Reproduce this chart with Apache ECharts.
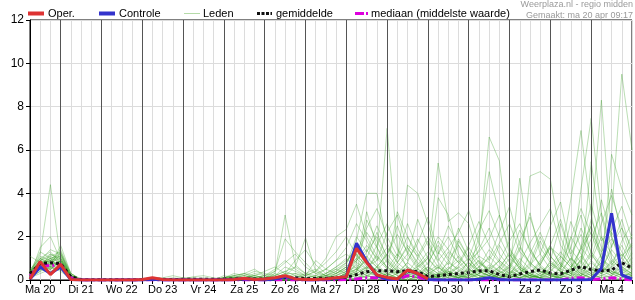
<!DOCTYPE html>
<html><head><meta charset="utf-8">
<script src="https://cdn.jsdelivr.net/npm/echarts@6/dist/echarts.min.js"></script>
<style>html,body{margin:0;padding:0;background:#fff}#c{width:635px;height:300px}</style>
</head><body><div id="c"></div>
<script>
// hours since Ma 20 00:00, 6-hourly steps
const hours = [6,12,18,24,30,36,42,48,54,60,66,72,78,84,90,96,102,108,114,120,126,132,138,144,150,156,162,168,174,180,186,192,198,204,210,216,222,228,234,240,246,252,258,264,270,276,282,288,294,300,306,312,318,324,330,336,342,348,354,360];
const dayLabels = ['Ma 20','Di 21','Wo 22','Do 23','Vr 24','Za 25','Zo 26','Ma 27','Di 28','Wo 29','Do 30','Vr 1','Za 2','Zo 3','Ma 4'];
const dayLabelHours = [12,36,60,84,108,132,156,180,204,228,252,276,300,324,348];
const midnightHours = [24,48,72,96,120,144,168,192,216,240,264,288,312,336];
const yTicks = [0,2,4,6,8,10,12];

const oper = [0.05,0.85,0.25,0.72,0.02,0,
  0,0,0,0,0,0.02,0.1,0.02,0,0,0,0,0,
  0,0.02,0.08,0.02,0.05,0.1,0.2,0.05,0.02,0.02,0.05,0.1,
  0.15,1.46,0.8,0.23,0.12,0.05,0.46,0.3,0.05,null,null,null,null,null,
  null,null,null,null,null,null,null,null,null,null,null,null,null,null,null];
const controle = [0.05,0.6,0.3,0.6,0.02,0,
  0,0,0,0,0,0,0.03,0,0,0,0,0,0,
  0,0.02,0.06,0.02,0,0.05,0.15,0.05,0,0,0.02,0.08,
  0.15,1.7,0.85,0.2,0.03,0.02,0.45,0.3,0.02,0,0,0,0,0.03,
  0.1,0.02,0,0,0,0,0,0,0,0,0.02,0.54,3.08,0.23,0.05];
const gemiddelde = [0.3,0.75,0.8,0.75,0.15,0.02,
  0.01,0.01,0.01,0.01,0.01,0.02,0.04,0.03,0.02,0.03,0.03,0.04,0.03,
  0.04,0.05,0.06,0.05,0.05,0.08,0.12,0.1,0.06,0.08,0.08,0.1,
  0.12,0.25,0.38,0.43,0.43,0.38,0.42,0.38,0.15,0.2,0.25,0.3,0.35,0.42,
  0.43,0.25,0.15,0.28,0.38,0.46,0.32,0.28,0.45,0.62,0.48,0.43,0.45,0.8,0.55];
const mediaan = [0.2,0.7,0.65,0.72,0.1,0,
  0,0,0,0,0,0,0,0,0,0,0,0,0,
  0,0,0,0,0,0,0,0,0,0,0,0,
  0.02,0.05,0.1,0.1,0.05,0.02,0.2,0.15,0,0,0,0,0,0,
  0,0,0,0,0,0,0,0,0.08,0.1,0.02,0.05,0.1,0.05,0];

const leden01 = [0.3,1.2,4.4,1.0,0.2,0, 0,0,0,0,0,0,0,0,0,0,0.05,0.1,0.05, 0.1,0.15,0.1,0.2,0.1,0.3,0.1,0,0,0,0.1,0.2, 0.5,1.2,0.6,0.3,0.1,0,0,0.2,0.5,0.2,0,0,0.3,0.8, 0.4,0.1,0,0,0.2,0.6,0.3,0,0,0.4,1.2,0.5,0.2,0,0.1];
const leden02 = [0.2,1.5,2.0,0.9,0.1,0, 0,0,0,0,0,0,0,0.05,0.1,0.05,0,0,0, 0.1,0.1,0.2,0.1,0,0.3,3.0,0.7,0.3,0.1,0.1,0.2, 0.4,1.0,2.2,1.5,0.8,0.3,0.2,0.5,1.0,0.4,0.2,0.1,0.6,1.1, 0.8,0.4,0.2,0.1,0,0.3,0.8,0.4,0.2,1.5,2.5,1.0,0.5,0.2,0.3];
const leden03 = [1.1,0.8,0.6,1.6,0.3,0, 0,0,0,0,0,0,0,0,0,0,0,0,0, 0,0.05,0.1,0.3,0.2,0.4,1.9,1.3,0.8,0.3,0.2,0.1, 0.3,0.5,0.2,0.1,0.3,1.0,2.0,1.2,0.4,0.1,0,0.2,0.9,1.6, 6.6,5.5,1.5,0.6,0.2,0.1,0,0.3,1.0,0.6,0.3,0.1,0,0.5,1.0];
const leden04 = [0.4,0.9,1.1,1.3,0.2,0, 0,0,0,0,0,0,0,0,0,0,0,0,0, 0.05,0.1,0.1,0.05,0,0.1,0.2,0.6,1.95,0.4,0.2,0.1, 0.2,0.8,3.15,1.5,0.5,0.2,0.1,0,0.3,0.6,0.2,0.1,0,0.3, 0.5,0.9,0.4,0.2,4.8,5.0,4.65,2.0,0.8,0.3,0.1,0.5,1.4,0.8,0.4];
const leden05 = [0.2,0.7,0.9,1.0,0.1,0, 0,0,0,0,0,0,0,0,0,0,0,0,0, 0,0,0,0,0,0.1,0.3,0.3,0.2,0.4,1.0,2.0, 2.34,3.5,2.0,1.1,0.6,0.3,0.8,0.4,0.2,0.6,0.3,0.1,0.4,0.9, 0.3,0.1,0.2,1.0,0.5,0.2,0.1,0.6,2.0,1.2,0.5,0.3,0.1,0,0.2];
const leden06 = [0.3,1.0,1.3,0.8,0.2,0, 0,0,0,0,0,0,0.05,0.1,0.2,0.1,0,0,0, 0.1,0.2,0.3,0.1,0,0,0.1,0.2,0.1,0,0.2,0.5, 0.3,1.85,4.0,4.0,1.7,0.8,0.4,0.2,0.1,0.3,0.8,0.5,0.2,0.1, 0.2,0.6,1.2,0.5,0.2,0.1,0.4,1.0,3.7,6.9,3.0,1.0,0.4,0.2,0.1];
const leden07 = [0.2,0.6,0.8,0.7,0.1,0, 0,0,0,0,0,0,0,0,0,0,0,0,0, 0.05,0.05,0.1,0.1,0.05,0.2,0.4,0.2,0.1,0.2,0.5,0.9, 1.2,0.8,0.5,1.2,7.0,1.5,0.5,0.2,0.1,0,0.2,0.6,1.0,0.4, 0.2,0.1,0.3,0.8,0.3,0.1,0,0.2,0.4,0.9,2.5,8.3,2.0,0.6,0.3];
const leden08 = [0.5,1.0,0.7,1.2,0.3,0.05, 0,0,0,0,0,0,0,0,0,0,0,0,0, 0,0,0.1,0.2,0.1,0,0,0.1,0.3,0.2,0.1,0, 0.1,0.3,0.6,0.9,1.5,1.0,4.38,4.0,2.6,1.0,0.4,0.2,0.1,0.5, 1.1,0.6,0.2,0.1,0.3,0.8,1.5,0.7,0.3,0.2,0.9,2.0,1.2,0.5,0.2];
const leden09 = [0.3,0.8,0.5,0.9,0.2,0, 0,0,0,0,0,0,0,0,0,0,0,0,0, 0,0,0,0.1,0.2,0.1,0,0,0,0.1,0.3,0.6, 0.9,1.4,0.8,0.4,0.2,0.1,0.3,0.6,1.0,5.4,2.7,3.1,2.6,1.0, 0.4,0.2,0.1,0.3,0.7,0.3,0.1,0,0.2,0.6,1.3,0.7,0.3,0.6,1.2];
const leden10 = [0.2,0.5,0.4,0.6,0.1,0, 0,0,0,0,0,0,0,0,0,0,0,0,0, 0,0,0.05,0,0,0,0,0,0.1,0.2,0.1,0.3, 0.6,0.3,2.77,1.8,0.9,0.4,0.2,0.1,0.3,3.8,3.0,1.2,0.5,0.2, 0.1,0,0.3,4.7,1.5,0.6,0.2,0.1,0,0.3,0.8,0.4,5.8,4.2,3.0];
const leden11 = [0.4,1.3,1.0,0.5,0.1,0, 0,0,0,0,0,0,0,0,0,0,0,0,0, 0,0.1,0.05,0,0,0.1,0.2,0.1,0.05,0,0.1,0.3, 0.5,0.9,1.6,1.0,0.5,3.15,2.0,1.0,0.4,0.2,0.5,0.9,0.4,2.0, 5.0,3.0,1.2,0.5,0.2,0.1,0.1,0.4,1.0,0.5,0.2,0.1,3.0,9.5,6.0];
const leden12 = [0.2,0.7,1.0,1.1,0.2,0, 0,0,0,0,0,0,0,0,0,0.05,0.15,0.2,0.1, 0.05,0,0,0,0,0,0,0,0,0,0.1,0.2, 0.4,0.6,0.3,0.2,0.5,1.2,0.6,0.3,0.1,0.2,0.9,1.6,0.8,0.3, 0.2,0.4,1.0,0.6,0.3,0.9,1.6,0.7,0.3,4.2,7.46,3.0,1.0,0.4,0.2];
const leden13 = [0.1,0.4,0.6,0.5,0.1,0, 0,0,0,0,0,0,0,0,0,0,0,0,0, 0.1,0.2,0.1,0,0,0,0.1,0.3,0.1,0,0,0.1, 0.2,0.4,1.0,2.2,1.0,0.5,0.2,0.7,1.3,0.6,0.2,0.1,0.3,0.6, 0.3,0.1,0.5,1.4,3.1,1.2,0.5,0.2,0.1,0.6,5.46,2.0,0.8,0.3,0.2];
const leden14 = [0.3,0.9,0.8,1.0,0.2,0, 0,0,0,0,0,0,0,0,0,0,0,0,0, 0,0,0,0,0,0,0,0,0,0,0.05,0.1, 0.3,0.7,0.4,0.2,0.1,0.3,0.8,1.9,1.0,0.5,1.3,0.8,0.3,0.1, 0.4,0.9,0.5,0.2,0.6,1.8,0.9,0.4,0.2,1.0,2.8,1.5,0.7,1.2,0.6];
const leden15 = [0.2,0.6,1.2,0.9,0.1,0, 0,0,0,0,0,0,0,0,0,0,0,0,0, 0,0.05,0.1,0,0,0,0,0,0,0.1,0.2,0.4, 0.8,1.5,0.9,0.4,0.2,0.6,1.2,0.5,0.2,0.1,0.3,0.7,1.5,0.8, 0.5,1.6,0.8,0.3,0.1,0.2,0.5,1.1,0.6,0.2,0.1,0.4,1.6,2.4,1.0];
const leden16 = [0.4,1.1,0.9,0.7,0.1,0, 0,0,0,0,0,0,0,0,0,0,0,0,0, 0,0,0,0,0,0,0,0,0,0,0,0, 0.1,0.2,0.5,1.1,0.6,0.2,0.1,0.3,0.8,1.6,0.9,0.4,0.2,0.6, 1.4,0.8,0.3,0.1,0.3,0.7,0.3,0.2,0.5,1.5,0.9,0.4,0.2,0.8,1.7];
const leden17 = [0.3,0.8,0.6,0.8,0.15,0, 0,0,0,0,0,0,0,0,0,0,0,0,0, 0.1,0.1,0,0,0,0,0,0,0,0,0,0.1, 0.3,0.9,1.4,0.7,0.3,0.1,0,0.2,0.6,0.3,0.1,1.8,1.0,0.4, 0.2,0.5,1.3,0.7,0.3,0.1,0.6,1.3,0.7,0.3,0.1,1.0,2.2,1.3,0.5];
const leden18 = [0.2,0.5,0.7,0.9,0.2,0, 0,0,0,0,0,0,0,0,0,0,0,0,0, 0,0,0,0,0,0,0,0,0,0,0,0, 0.2,0.5,0.9,0.4,0.2,0.8,1.5,0.7,0.3,0.1,0.4,0.2,0.1,0.3, 0.6,0.3,0.1,0.2,1.2,2.2,1.1,0.5,1.5,3.0,1.2,0.6,0.3,0.1,0.4];
const leden19 = [0.1,0.4,0.9,1.4,0.3,0, 0,0,0,0,0,0,0,0,0,0,0,0,0, 0,0,0,0,0,0,0,0,0,0,0,0, 0.1,0.3,0.6,0.3,0.1,0,0.2,0.4,0.2,0.1,0.5,1.1,0.5,0.2, 0.1,0.2,0.6,1.5,0.8,0.4,0.2,0.1,0.3,0.8,0.4,1.2,4.2,2.0,0.8];
const leden20 = [0.3,0.7,0.9,0.6,0.1,0, 0,0,0,0,0,0,0,0,0,0,0,0,0, 0,0,0,0,0,0,0,0,0,0,0,0, 0.4,0.2,0.1,0.6,1.2,0.6,0.3,1.0,1.8,0.8,0.3,0.1,0.2,0.5, 0.3,0.1,0.2,0.5,0.2,0.1,0.9,2.6,1.1,0.4,0.2,0.6,0.3,0.1,0.2];
const leden21 = [0.2,0.6,0.5,0.6,0.1,0, 0,0,0,0,0,0,0,0,0,0,0,0,0, 0,0,0,0,0,0,0,0,0,0,0,0, 0.1,0.2,0.4,0.2,0.1,0.3,0.6,0.3,0.1,0.2,0.1,0,0.2,0.4, 0.2,0.1,0.3,0.6,0.3,0.1,0.2,0.5,0.3,0.1,0.4,0.8,0.4,0.2,0.1];
const leden22 = [0.1,0.5,0.8,0.7,0.1,0, 0,0,0,0,0,0,0,0,0,0,0,0,0, 0,0,0,0,0,0,0,0,0,0,0.05,0.1, 0.3,0.5,0.2,0.1,0.3,0.5,0.2,0.1,0.4,0.7,0.3,0.1,0.5,0.9, 0.4,0.2,0.1,0.3,0.8,0.4,0.2,0.1,0.6,1.1,0.5,0.3,0.9,0.5,0.3];
const leden23 = [0.3,0.9,0.6,0.4,0.05,0, 0,0,0,0,0,0,0,0,0,0,0,0,0, 0.05,0.1,0.05,0,0,0,0,0,0,0,0,0, 0,0.1,0.3,0.6,0.3,0.1,0,0.1,0.3,0.2,0.6,0.3,0.1,0, 0.1,0.3,0.7,0.3,0.1,0.4,0.2,0.1,0,0.2,0.5,0.3,0.6,1.0,0.5];
const leden24 = [0.2,0.7,1.1,0.8,0.2,0, 0,0,0,0,0,0,0,0,0,0,0,0,0, 0,0,0,0,0,0,0,0,0,0,0,0, 0.2,0.4,1.1,0.6,0.2,0.1,0.3,0.2,0.1,0.3,0.2,0.4,0.8,0.4, 0.2,0.1,0.4,0.2,0.1,0.3,0.7,0.4,0.2,0.1,0.3,0.6,0.3,0.4,0.8];
const leden25 = [0.1,0.3,0.5,0.8,0.2,0, 0,0,0,0,0,0,0,0,0,0,0,0,0, 0,0,0,0,0,0,0,0,0,0,0,0, 0.1,0,0.2,0.5,0.9,0.4,0.2,0.1,0,0.2,0.4,0.2,0.1,0.3, 0.7,0.4,0.2,0.1,0.2,0.5,0.3,0.1,0.4,0.9,0.4,0.2,0.1,0.3,0.6];
const leden26 = [0.4,0.8,1.0,1.2,0.2,0, 0,0,0,0,0,0,0,0,0,0,0,0,0, 0,0,0,0,0,0,0,0,0,0.1,0.2,0.3, 0.6,1.0,0.5,0.2,0.1,0,0.1,0.3,0.6,0.3,0.1,0.2,0.5,0.2, 0.1,0.3,0.6,0.3,0.1,0.2,0.4,0.8,0.4,0.2,0.6,0.3,0.8,1.6,0.7];
const leden27 = [0.2,0.5,0.6,0.9,0.1,0, 0,0,0,0,0,0,0,0,0,0,0,0,0, 0,0,0,0,0,0,0,0,0,0,0,0, 0,0.1,0.2,0.1,0,0.1,0.3,0.5,0.2,0.1,0,0.1,0.3,0.2, 0.1,0,0.1,0.3,0.2,0.1,0,0.2,0.5,0.3,0.1,0.2,0.4,0.2,0.1];
const leden28 = [0.3,0.6,0.7,0.5,0.1,0, 0,0,0,0,0,0,0,0,0,0,0,0,0, 0,0,0,0,0,0,0,0,0,0,0,0, 0.2,0.3,0.1,0,0.2,0.4,0.2,0.1,0,0.1,0.3,0.6,0.3,0.1, 0.3,0.6,0.3,0.1,0.2,0.1,0.3,0.2,0.1,0.5,0.3,0.1,0.2,0.6,0.3];
const leden29 = [0.3,0.9,1.2,1.0,0.2,0, 0,0,0,0,0,0,0,0,0,0,0,0,0, 0.1,0.2,0.3,0.2,0.1,0.4,0.8,1.2,0.6,0.3,0.5,0.9, 1.5,2.6,1.8,0.9,2.2,3.0,1.5,0.8,0.4,1.2,2.0,1.0,0.6,1.4, 2.4,1.2,0.6,1.8,2.9,1.5,0.8,0.5,1.9,3.3,2.1,1.0,0.6,1.8,2.6];
const leden30 = [0.2,0.8,0.9,1.1,0.2,0, 0,0,0,0,0,0,0,0,0,0,0,0,0, 0,0.1,0.2,0.4,0.3,0.2,0.6,0.4,0.2,0.9,0.5,0.3, 0.6,1.2,2.4,3.3,2.0,1.1,2.6,1.4,0.7,1.8,1.0,2.4,1.3,0.6, 1.0,2.2,3.4,1.6,0.7,1.2,2.5,3.6,1.4,0.8,1.9,3.1,1.5,2.8,1.2];
const leden31 = [0.4,1.0,0.8,1.3,0.3,0, 0,0,0,0,0,0,0,0,0.05,0.1,0.1,0.05,0, 0.2,0.1,0.3,0.5,0.2,0.1,0.3,0.9,1.4,0.7,0.3,0.6, 1.0,0.5,1.3,2.0,1.1,2.5,1.2,2.8,1.6,0.9,1.5,2.2,3.2,1.7, 0.9,1.7,2.6,1.3,0.8,2.0,1.1,0.6,2.7,1.5,3.5,1.8,2.3,3.4,1.9];
const leden32 = [0.1,0.6,1.0,0.8,0.1,0, 0,0,0,0,0,0,0,0,0,0,0,0,0, 0,0,0.1,0.2,0.4,0.6,0.3,0.1,0.2,0.4,0.8,1.3, 2.0,1.1,0.7,1.6,2.6,1.4,0.9,1.7,2.9,1.3,0.7,1.9,1.0,2.3, 3.2,2.0,1.0,2.3,1.4,0.7,1.6,2.8,1.2,2.1,1.0,2.6,3.9,2.4,1.5];
const leden33 = [0.3,0.7,0.5,0.9,0.2,0, 0,0,0,0,0,0,0,0,0,0,0,0,0, 0.1,0.3,0.2,0.1,0.2,0.5,0.9,0.5,0.2,0.1,0.3,0.5, 0.8,1.6,1.0,0.6,1.2,2.1,1.3,0.6,1.1,2.0,1.4,0.8,1.6,2.7, 1.6,0.9,1.8,2.6,1.3,0.7,1.5,1.1,0.6,1.4,2.2,1.3,1.9,1.0,2.1];
const leden34 = [0.2,0.9,1.4,1.2,0.2,0, 0,0,0,0,0,0,0,0,0,0,0,0,0, 0,0,0,0.1,0.1,0.2,0.4,0.6,0.3,0.5,0.2,0.4, 0.7,2.0,1.3,2.5,1.5,0.8,1.6,1.1,2.0,1.2,2.5,1.6,0.9,1.3, 1.9,3.0,1.4,0.8,1.7,2.5,3.3,1.6,0.9,2.4,1.3,3.7,2.0,1.1,1.6];
const leden = [leden01,leden02,leden03,leden04,leden05,leden06,leden07,leden08,leden09,leden10,leden11,leden12,leden13,leden14,leden15,leden16,leden17,leden18,leden19,leden20,leden21,leden22,leden23,leden24,leden25,leden26,leden27,leden28,leden29,leden30,leden31,leden32,leden33,leden34];

const FONT = 'Liberation Sans, Arial, sans-serif';
const pair = arr => hours.map((h, i) => [h, arr[i]]);

const series = [];
leden.forEach((m, k) => {
  const s = {
    type: 'line', data: pair(m), symbol: 'none', z: 2, silent: true,
    lineStyle: { color: 'rgba(60,160,40,0.35)', width: 1 }
  };
  if (k === 0) {
    s.markLine = {
      silent: true, symbol: 'none', label: { show: false },
      lineStyle: { color: '#555', width: 1, type: 'solid' },
      data: midnightHours.map(h => ({ xAxis: h }))
    };
  }
  series.push(s);
});
series.push({ type: 'line', data: pair(mediaan), symbol: 'none', z: 3, silent: true,
  lineStyle: { color: '#dd00dd', width: 3, type: [8, 3, 2, 3] } });
series.push({ type: 'line', data: pair(gemiddelde), symbol: 'none', z: 4, silent: true,
  lineStyle: { color: '#111', width: 3, type: [3, 3] } });
series.push({ type: 'line', data: pair(controle), symbol: 'none', z: 5, silent: true,
  lineStyle: { color: '#3333cc', width: 3 } });
series.push({ type: 'line', data: pair(oper), symbol: 'none', z: 6, silent: true,
  lineStyle: { color: '#dd3333', width: 3 } });

const legendY = 13.5;
const LF = '11px ' + FONT;
const graphic = [
  { type: 'line', shape: { x1: 28, y1: legendY, x2: 44, y2: legendY }, style: { stroke: '#dd3333', lineWidth: 4 } },
  { type: 'text', x: 48, y: legendY, style: { text: 'Oper.', font: LF, fill: '#000', verticalAlign: 'middle' } },
  { type: 'line', shape: { x1: 99, y1: legendY, x2: 115, y2: legendY }, style: { stroke: '#3333cc', lineWidth: 4 } },
  { type: 'text', x: 119, y: legendY, style: { text: 'Controle', font: LF, fill: '#000', verticalAlign: 'middle' } },
  { type: 'line', shape: { x1: 184, y1: legendY, x2: 200, y2: legendY }, style: { stroke: '#b5dba8', lineWidth: 1 } },
  { type: 'text', x: 203, y: legendY, style: { text: 'Leden', font: LF, fill: '#000', verticalAlign: 'middle' } },
  { type: 'line', shape: { x1: 257, y1: legendY, x2: 272, y2: legendY }, style: { stroke: '#111', lineWidth: 3, lineDash: [3, 1.5] } },
  { type: 'text', x: 276, y: legendY, style: { text: 'gemiddelde', font: LF, fill: '#000', verticalAlign: 'middle' } },
  { type: 'line', shape: { x1: 355, y1: legendY, x2: 368, y2: legendY }, style: { stroke: '#dd00dd', lineWidth: 3, lineDash: [9, 2, 2, 3] } },
  { type: 'text', x: 371, y: legendY, style: { text: 'mediaan (middelste waarde)', font: LF, fill: '#000', verticalAlign: 'middle' } },
  { type: 'text', x: 633, y: 5, style: { text: 'Weerplaza.nl - regio midden', font: '9px ' + FONT, fill: '#9a9a9a', align: 'right', verticalAlign: 'middle' } },
  { type: 'text', x: 633, y: 15.5, style: { text: 'Gemaakt: ma 20 apr 09:17', font: '9px ' + FONT, fill: '#9a9a9a', align: 'right', verticalAlign: 'middle' } }
];

const chart = echarts.init(document.getElementById('c'), null, { renderer: 'canvas' });
chart.setOption({
  animation: false,
  backgroundColor: '#fff',
  grid: { left: 30, right: 1, top: 20, bottom: 20, show: true, borderColor: '#000', borderWidth: 1, backgroundColor: 'transparent' },
  xAxis: {
    type: 'value', min: 6, max: 360, interval: 6,
    axisLine: { show: true, lineStyle: { color: '#000', width: 1 } },
    axisTick: { show: true, length: 4, lineStyle: { color: '#000' } },
    axisLabel: {
      color: '#000', fontSize: 11, fontFamily: FONT, margin: 4, showMinLabel: true, showMaxLabel: true,
      formatter: v => { const k = dayLabelHours.indexOf(v); return k >= 0 ? dayLabels[k] : ''; }
    },
    splitLine: { show: true, lineStyle: { color: '#dcdcdc', width: 1 } }
  },
  yAxis: {
    type: 'value', min: yTicks[0], max: yTicks[yTicks.length - 1], interval: 2,
    axisLine: { show: true, lineStyle: { color: '#000', width: 1 } },
    axisTick: { show: true, length: 4, lineStyle: { color: '#000' } },
    axisLabel: { color: '#000', fontSize: 12, fontFamily: FONT, margin: 6 },
    splitLine: { show: true, lineStyle: { color: '#dcdcdc', width: 1 } }
  },
  graphic: graphic,
  series: series
});
</script></body></html>
